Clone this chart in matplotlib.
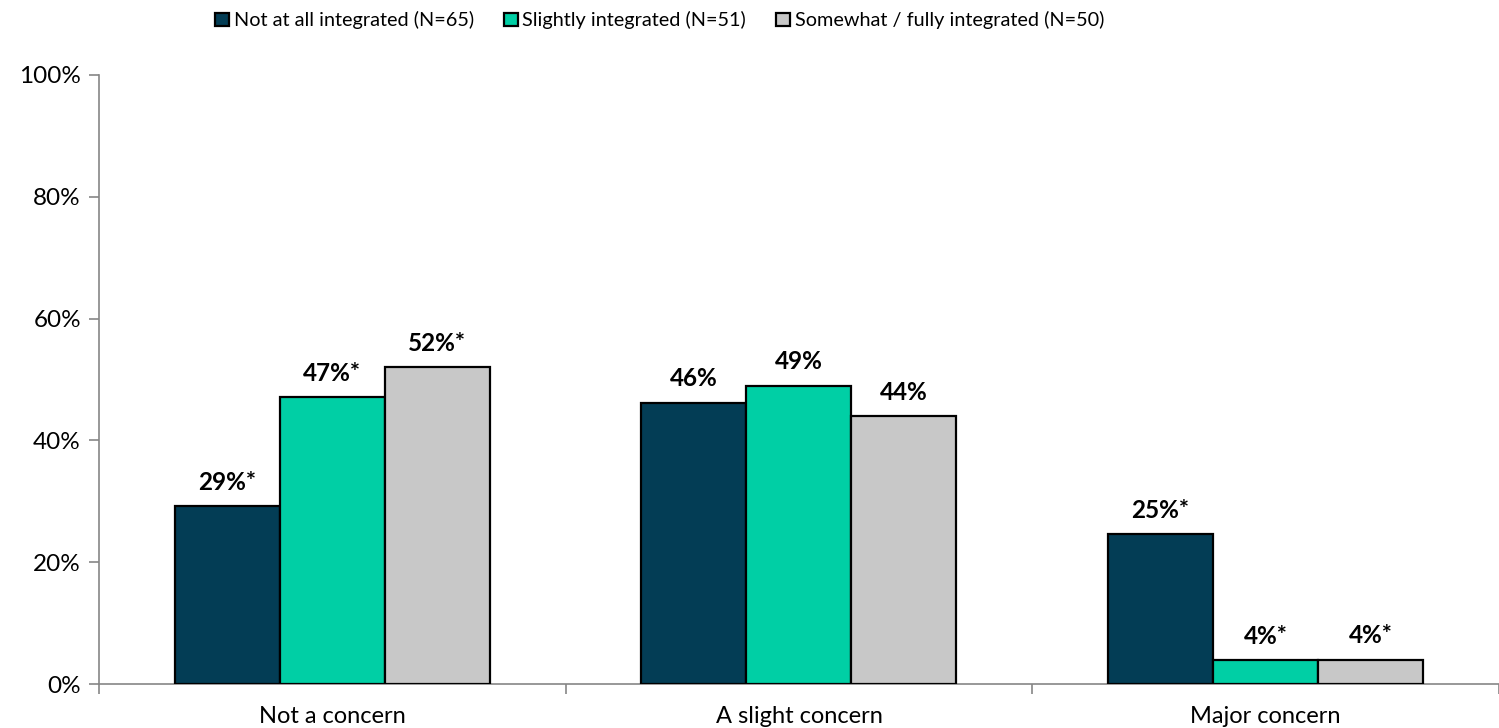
import matplotlib.pyplot as plt
import numpy as np

plt.rcParams['font.family'] = ['Lato', 'DejaVu Sans']

categories = ['Not a concern', 'A slight concern', 'Major concern']
series_names = ['Not at all integrated (N=65)',
                'Slightly integrated (N=51)',
                'Somewhat / fully integrated (N=50)']
not_integrated = [29.2, 46.2, 24.6]
slightly_integrated = [47.1, 49.0, 3.9]
fully_integrated = [52.0, 44.0, 4.0]
significant = [[True, False, True],
               [True, False, True],
               [True, False, True]]
colors = ['#033d55', '#00cfa5', '#c8c8c8']

fig = plt.figure(figsize=(14.99, 7.28), dpi=100)
ax = fig.add_axes([0.066, 0.0604, 0.934, 0.8366])

x = np.arange(len(categories))
width = 0.225
series = [not_integrated, slightly_integrated, fully_integrated]

for i, (vals, name, color) in enumerate(zip(series, series_names, colors)):
    pos = x + (i - 1) * width
    bars = ax.bar(pos, vals, width, color=color, edgecolor='black',
                  linewidth=1.6, label=name, zorder=3)
    for b, v, star in zip(bars, vals, significant[i]):
        txt = f"{v:.0f}%" + ("*" if star else "")
        ax.annotate(txt, (b.get_x() + b.get_width() / 2, v),
                    xytext=(0, 9), textcoords='offset points',
                    ha='center', va='bottom', fontsize=17.5, fontweight='bold')

ax.set_xlim(-0.5, len(categories) - 0.5)
ax.set_ylim(0, 100)
ax.set_yticks(range(0, 101, 20))
ax.set_yticklabels([f"{t}%" for t in range(0, 101, 20)], fontsize=17.5)

# category labels in the middle, tick marks at the group boundaries
ax.set_xticks(np.arange(-0.5, len(categories), 1.0))
ax.set_xticklabels([])
ax.set_xticks(x, minor=True)
ax.set_xticklabels(categories, minor=True, fontsize=17)
ax.tick_params(axis='x', which='minor', length=0, pad=16)
ax.tick_params(axis='x', which='major', length=7, color='#868686', width=1.2)
ax.tick_params(axis='y', length=7, color='#868686', width=1.2, pad=6)

for s in ['top', 'right']:
    ax.spines[s].set_visible(False)
for s in ['left', 'bottom']:
    ax.spines[s].set_color('#868686')
    ax.spines[s].set_linewidth(1.2)

fig.legend(loc='center', bbox_to_anchor=(0.44, 0.972), ncol=3, frameon=False,
           fontsize=14.3, handlelength=0.7, handleheight=0.7,
           handletextpad=0.25, columnspacing=1.5)

fig.savefig('out.png', dpi=100)
plt.close(fig)
